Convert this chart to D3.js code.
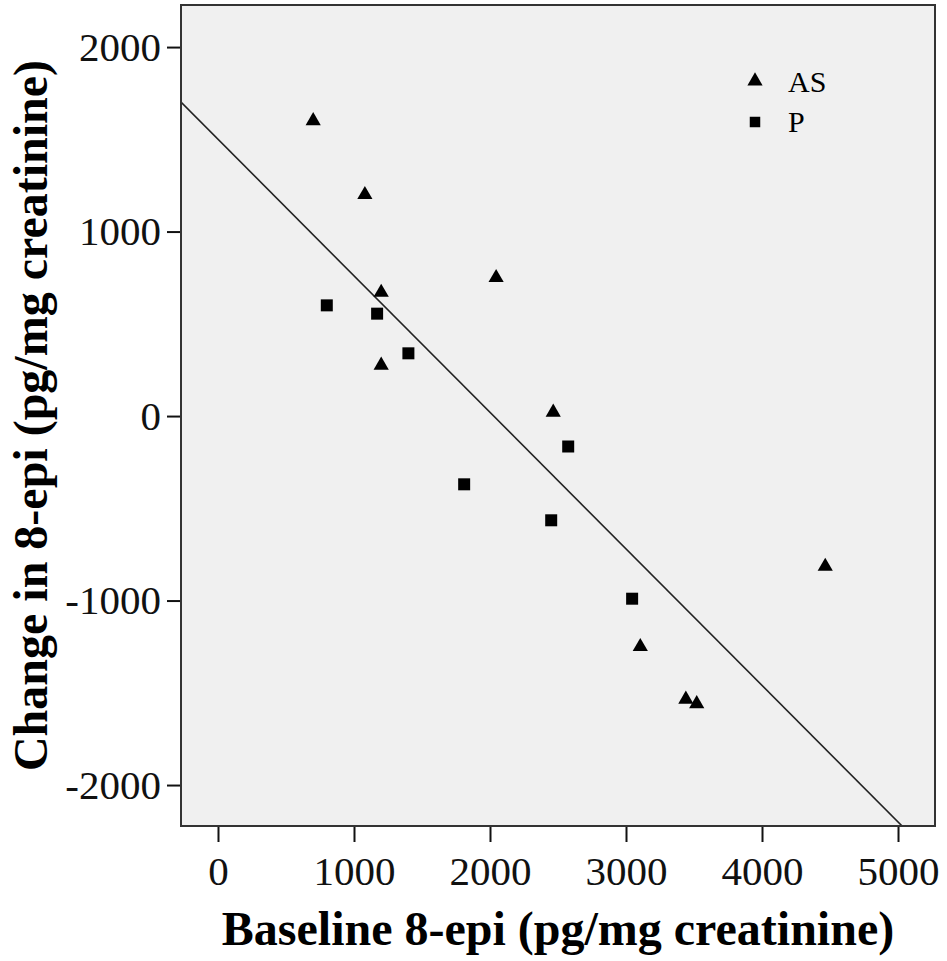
<!DOCTYPE html>
<html>
<head>
  <script src="https://cdn.jsdelivr.net/npm/d3@7"></script>
  <style>
    body { margin: 0; background: #fff; }
  </style>
</head>
<body>
  <div id="chart"></div>
  <script>
    // AS group (triangles)
    const asBaseline = [700, 1080, 1200, 1200, 2045, 2465, 4465, 3105, 3440, 3520];
    const asChange   = [1600, 1200, 670, 275, 750, 20, -815, -1250, -1535, -1560];
    // P group (squares)
    const pBaseline = [800, 1170, 1400, 2575, 1810, 2450, 3045];
    const pChange   = [600, 555, 340, -165, -370, -565, -990];

    const xTicks = [0, 1000, 2000, 3000, 4000, 5000];
    const yTicks = [-2000, -1000, 0, 1000, 2000];

    // fitted line
    const fitIntercept = 1500;
    const fitSlope = -0.74;

    const width = 947, height = 961;
    const plotL = 181, plotR = 935, plotT = 5, plotB = 826;

    const x = d3.scaleLinear().domain([-272, 5272]).range([plotL, plotR]);
    const y = d3.scaleLinear().domain([-2222, 2228]).range([plotB, plotT]);

    const svg = d3.select("#chart").append("svg")
      .attr("width", width)
      .attr("height", height);

    svg.append("defs").append("clipPath").attr("id", "plot")
      .append("rect")
      .attr("x", plotL).attr("y", plotT)
      .attr("width", plotR - plotL).attr("height", plotB - plotT);

    svg.append("rect")
      .attr("x", plotL).attr("y", plotT)
      .attr("width", plotR - plotL).attr("height", plotB - plotT)
      .attr("fill", "#f0f0f0");

    const xAxis = svg.append("g")
      .attr("transform", `translate(0,${plotB})`)
      .call(d3.axisBottom(x).tickValues(xTicks).tickSize(16).tickPadding(14).tickFormat(d3.format("d")));
    const yAxis = svg.append("g")
      .attr("transform", `translate(${plotL},0)`)
      .call(d3.axisLeft(y).tickValues(yTicks).tickSize(14).tickPadding(6).tickFormat(d3.format("d")));

    [xAxis, yAxis].forEach(g => {
      g.select(".domain").remove();
      g.selectAll(".tick line").attr("stroke", "#111").attr("stroke-width", 2);
      g.selectAll(".tick text")
        .attr("fill", "#111")
        .style("font-family", "'Liberation Serif', 'Times New Roman', serif")
        .style("font-size", "41px");
    });
    xAxis.selectAll(".tick text").attr("dy", "0.71em");
    yAxis.selectAll(".tick text").text(d => d < 0 ? "-" + Math.abs(d) : d);

    // regression line
    const xd = x.domain();
    svg.append("line")
      .attr("clip-path", "url(#plot)")
      .attr("x1", x(xd[0])).attr("y1", y(fitIntercept + fitSlope * xd[0]))
      .attr("x2", x(xd[1])).attr("y2", y(fitIntercept + fitSlope * xd[1]))
      .attr("stroke", "#222").attr("stroke-width", 1.6);

    const tri = d3.symbol().type(d3.symbolTriangle).size(100);
    const sq = d3.symbol().type(d3.symbolSquare).size(144);

    svg.append("g").selectAll("path")
      .data(d3.zip(asBaseline, asChange))
      .join("path")
      .attr("d", tri)
      .attr("transform", d => `translate(${x(d[0])},${y(d[1])})`)
      .attr("fill", "#000");

    svg.append("g").selectAll("path")
      .data(d3.zip(pBaseline, pChange))
      .join("path")
      .attr("d", sq)
      .attr("transform", d => `translate(${x(d[0])},${y(d[1])})`)
      .attr("fill", "#000");

    // frame
    svg.append("rect")
      .attr("x", plotL).attr("y", plotT)
      .attr("width", plotR - plotL).attr("height", plotB - plotT)
      .attr("fill", "none").attr("stroke", "#333").attr("stroke-width", 2);

    // legend
    const legend = svg.append("g").attr("transform", "translate(755,0)");
    legend.append("path").attr("d", tri).attr("transform", "translate(0,81)");
    legend.append("path").attr("d", d3.symbol().type(d3.symbolSquare).size(110)).attr("transform", "translate(0,122)");
    legend.selectAll("text")
      .data([["AS", 92], ["P", 132]])
      .join("text")
      .attr("x", 33).attr("y", d => d[1])
      .style("font-family", "'Liberation Serif', 'Times New Roman', serif")
      .style("font-size", "30px")
      .text(d => d[0]);

    // axis titles
    svg.append("text")
      .attr("x", (plotL + plotR) / 2).attr("y", 945)
      .attr("text-anchor", "middle")
      .style("font-family", "'Liberation Serif', 'Times New Roman', serif")
      .style("font-weight", "bold")
      .style("font-size", "48px")
      .text("Baseline 8-epi (pg/mg creatinine)");

    svg.append("text")
      .attr("transform", `translate(47,${(plotT + plotB) / 2}) rotate(-90)`)
      .attr("text-anchor", "middle")
      .style("font-family", "'Liberation Serif', 'Times New Roman', serif")
      .style("font-weight", "bold")
      .style("font-size", "48px")
      .text("Change in 8-epi (pg/mg creatinine)");
  </script>
</body>
</html>
